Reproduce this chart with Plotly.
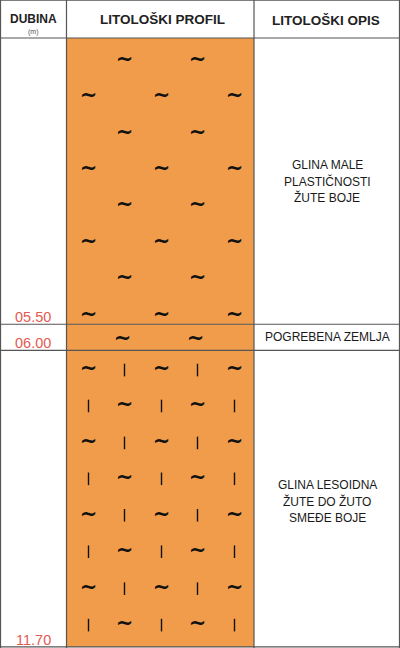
import plotly.graph_objects as go

# layers (depth in m)
layer_top = [0.0, 5.50, 6.00]
layer_bottom = [5.50, 6.00, 11.70]
depth_labels = ["05.50", "06.00", "11.70"]
descriptions = [
    ["GLINA MALE", "PLASTIČNOSTI", "ŽUTE BOJE"],
    ["POGREBENA ZEMLJA"],
    ["GLINA LESOIDNA", "ŽUTE DO ŽUTO", "SMEĐE BOJE"],
]
desc_depth = [2.75, 5.75, 8.91]

# hatch rows: depth of each row and its pattern kind
hatch_rows_1 = [0.44, 1.13, 1.84, 2.53, 3.23, 3.93, 4.63, 5.34]
hatch_kind_1 = ["a", "b", "a", "b", "a", "b", "a", "b"]
hatch_rows_2 = [5.79]
hatch_rows_3 = [6.38, 7.07, 7.78, 8.47, 9.17, 9.87, 10.58, 11.28]
hatch_kind_3 = ["c", "d", "c", "d", "c", "d", "c", "d"]

# column positions of the hatch symbols (px across the page)
cols_two = [124.5, 197.5]
cols_three = [88.5, 161.5, 234.5]
cols_layer2 = [122.5, 195.5]

ORANGE = "#F09C4B"
LINE = "#555555"
RED = "#E35A52"
FONT = "Liberation Sans, Arial, sans-serif"

X_DEPTH = (0, 66.5)
X_PROFIL = (66.5, 254)
X_OPIS = (254, 400)
HEAD = -0.73
BOTTOM = 11.72

fig = go.Figure()

# orange profile fill per layer
for t, b in zip(layer_top, layer_bottom):
    fig.add_shape(type="rect", x0=X_PROFIL[0], x1=X_PROFIL[1], y0=t, y1=b,
                  xref="x", yref="y", fillcolor=ORANGE, line_width=0, layer="below")

# tildes and bars
tx, ty, bx, by = [], [], [], []
for d, k in zip(hatch_rows_1, hatch_kind_1):
    cols = cols_two if k == "a" else cols_three
    tx += cols
    ty += [d] * len(cols)
tx += cols_layer2
ty += hatch_rows_2 * len(cols_layer2)
for d, k in zip(hatch_rows_3, hatch_kind_3):
    if k == "c":
        tx += cols_three; ty += [d] * 3
        bx += cols_two; by += [d] * 2
    else:
        tx += cols_two; ty += [d] * 2
        bx += cols_three; by += [d] * 3

fig.add_trace(go.Scatter(x=tx, y=ty, mode="text", text=["<b>~</b>"] * len(tx),
                         textfont=dict(family="DejaVu Sans", size=21, color="#111111"),
                         textposition="middle center", hoverinfo="skip"))
fig.add_trace(go.Scatter(x=bx, y=by, mode="markers",
                         marker=dict(symbol="line-ns", size=9,
                                     line=dict(width=1.4, color="#111111")),
                         hoverinfo="skip"))

# grid lines
for b in [0.0] + layer_bottom:
    fig.add_shape(type="line", x0=0, x1=400, y0=b, y1=b, xref="x", yref="y",
                  line=dict(color=LINE, width=1.2))
fig.add_shape(type="line", x0=0, x1=400, y0=HEAD, y1=HEAD, xref="x", yref="y",
              line=dict(color=LINE, width=1.5))
for xv in [0.5, X_DEPTH[1], X_PROFIL[1], 399.5]:
    fig.add_shape(type="line", x0=xv, x1=xv, y0=HEAD, y1=BOTTOM, xref="x", yref="y",
                  line=dict(color=LINE, width=1.2))

# header
fig.add_annotation(x=33.2, y=-0.36, text="<b>DUBINA</b>", showarrow=False,
                   font=dict(family=FONT, size=12, color="#222222"))
fig.add_annotation(x=33.2, y=-0.11, text="(m)", showarrow=False,
                   font=dict(family=FONT, size=7, color="#555555"))
fig.add_annotation(x=162, y=-0.36, text="<b>LITOLOŠKI PROFIL</b>", showarrow=False,
                   font=dict(family=FONT, size=13.5, color="#222222"))
fig.add_annotation(x=326, y=-0.34, text="<b>LITOLOŠKI OPIS</b>", showarrow=False,
                   font=dict(family=FONT, size=13.5, color="#222222"))

# depth labels
for b, lab in zip(layer_bottom, depth_labels):
    fig.add_annotation(x=33.2, y=b, text=lab, showarrow=False, yanchor="bottom",
                       yshift=-3, font=dict(family=FONT, size=14.5, color=RED))

# descriptions
for d, lines in zip(desc_depth, descriptions):
    n = len(lines)
    for i, line in enumerate(lines):
        fig.add_annotation(x=327, y=d, text=line, showarrow=False,
                           yshift=-(i - (n - 1) / 2) * 16.5,
                           font=dict(family=FONT, size=12, color="#1a1a1a"))

fig.update_xaxes(range=[0, 400], visible=False, fixedrange=True)
fig.update_yaxes(range=[BOTTOM, HEAD], visible=False, fixedrange=True)
fig.update_layout(
    width=400, height=648,
    margin=dict(l=0, r=0, t=0, b=0),
    paper_bgcolor="white", plot_bgcolor="white",
    showlegend=False,
)

fig.write_html("out.html", config={"displayModeBar": False},
               post_script="document.body.style.margin='0';document.body.style.overflow='hidden';")
